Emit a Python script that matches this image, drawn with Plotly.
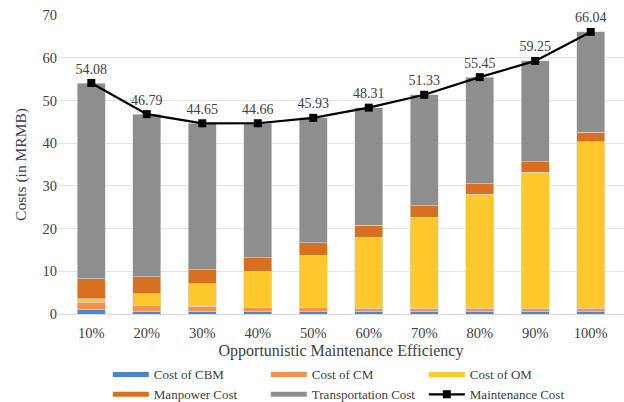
import plotly.graph_objects as go

categories = ["10%", "20%", "30%", "40%", "50%", "60%", "70%", "80%", "90%", "100%"]
cost_cbm = [1.1, 0.7, 0.7, 0.6, 0.6, 0.5, 0.5, 0.5, 0.5, 0.5]
cost_cm = [1.7, 1.3, 1.1, 1.0, 0.9, 0.9, 0.9, 0.9, 0.9, 0.9]
cost_om = [0.8, 2.8, 5.3, 8.4, 12.2, 16.6, 21.3, 26.6, 31.8, 38.9]
manpower = [4.6, 3.9, 3.3, 3.2, 3.0, 2.75, 2.6, 2.5, 2.4, 2.3]
maintenance = [54.08, 46.79, 44.65, 44.66, 45.93, 48.31, 51.33, 55.45, 59.25, 66.04]
transportation = [round(m - a - b - c - d, 2) for m, a, b, c, d in
                  zip(maintenance, cost_cbm, cost_cm, cost_om, manpower)]

names = ["Cost of CBM", "Cost of CM", "Cost of OM", "Manpower Cost", "Transportation Cost"]
colors = ["#4A86CC", "#F7924A", "#FFC82C", "#D9701F", "#8E8E8E"]
series = [cost_cbm, cost_cm, cost_om, manpower, transportation]

FONT = "Liberation Serif"
TXT = "#404040"


def f(size):
    return dict(family=FONT, size=size, color=TXT)


fig = go.Figure()
for n, c, s in zip(names, colors, series):
    fig.add_trace(go.Bar(x=categories, y=s, name=n,
                         marker=dict(color=c, line=dict(color="#D8D8D8", width=0.6)),
                         showlegend=False))

fig.add_trace(go.Scatter(x=categories, y=maintenance, name="Maintenance Cost",
                         mode="lines+markers+text", line=dict(color="black", width=2.2),
                         marker=dict(symbol="square", size=8, color="black"),
                         text=[f"{v:.2f}" for v in maintenance], textposition="top center",
                         cliponaxis=False, textfont=f(14), showlegend=False))

# legend entries
leg_names = names + ["Maintenance Cost"]
leg_colors = colors + ["black"]
for n, c in zip(leg_names, leg_colors):
    if n == "Maintenance Cost":
        fig.add_trace(go.Scatter(x=[None], y=[None], name=n, mode="lines+markers",
                                 line=dict(color=c, width=2.2),
                                 marker=dict(symbol="square", size=8, color=c)))
    else:
        fig.add_trace(go.Scatter(x=[None], y=[None], name=n, mode="lines",
                                 line=dict(color=c, width=5)))

fig.update_layout(
    template="none",
    width=624, height=402,
    barmode="stack", bargap=0.49,
    plot_bgcolor="white", paper_bgcolor="white",
    margin=dict(l=58, r=0, t=15, b=88, autoexpand=False),
    font=f(13),
    xaxis=dict(type="category",
               title=dict(text="Opportunistic Maintenance Efficiency", font=f(16), standoff=4),
               tickfont=f(14.5), showline=True, linecolor="#D9D9D9", showgrid=False,
               linewidth=1, ticks="", ticklen=0, ticklabelstandoff=6, zeroline=False),
    yaxis=dict(title=dict(text="Costs (in MRMB)", font=f(15.5), standoff=12),
               range=[0, 70], dtick=10, showgrid=True, gridcolor="#E3E3E3", gridwidth=1,
               tickfont=f(14.5), zeroline=False, ticks="", showline=False),
    legend=dict(orientation="h", x=0.088, y=-0.152, xanchor="left", yanchor="top",
                traceorder="normal", entrywidth=107, entrywidthmode="pixels",
                tracegroupgap=0, font=f(13), itemwidth=36),
)

fig.write_html("out.html")
